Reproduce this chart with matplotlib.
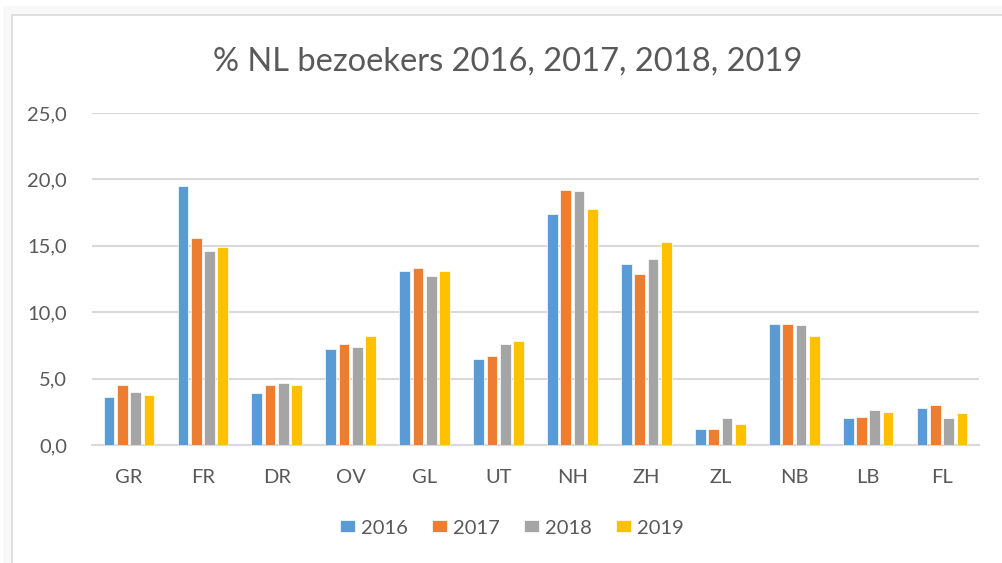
import matplotlib
matplotlib.use("Agg")
from matplotlib import pyplot as plt
from matplotlib.patches import Rectangle
import numpy as np

# Data
regions = ['GR', 'FR', 'DR', 'OV', 'GL', 'UT', 'NH', 'ZH', 'ZL', 'NB', 'LB', 'FL']
years = ['2016', '2017', '2018', '2019']
v2016 = [3.6, 19.5, 3.9, 7.2, 13.1, 6.5, 17.4, 13.6, 1.2, 9.1, 2.0, 2.8]
v2017 = [4.5, 15.6, 4.5, 7.6, 13.3, 6.7, 19.2, 12.9, 1.2, 9.1, 2.1, 3.0]
v2018 = [4.0, 14.6, 4.7, 7.4, 12.7, 7.6, 19.1, 14.0, 2.0, 9.0, 2.6, 2.0]
v2019 = [3.8, 14.9, 4.5, 8.2, 13.1, 7.8, 17.8, 15.3, 1.6, 8.2, 2.5, 2.4]
series = [v2016, v2017, v2018, v2019]
colors = ['#5B9BD5', '#ED7D31', '#A5A5A5', '#FFC000']
yticks = [0, 5, 10, 15, 20, 25]

plt.rcParams['font.family'] = ['Lato', 'DejaVu Sans']
txt = '#595959'

fig = plt.figure(figsize=(10.02, 5.63), dpi=100)
fig.patch.set_facecolor('white')
# light grey frame around the chart area, then the chart area with thin border
fig.patches.append(Rectangle((3/1002, 0), 1.0, 1 - 6/563, transform=fig.transFigure,
                             facecolor='#f8f8f8', edgecolor='none', zorder=-6))
fig.patches.append(Rectangle((12/1002, -0.01), 1.0, 1 - 15/563 + 0.01, transform=fig.transFigure,
                             facecolor='white', edgecolor='#d9d9d9', lw=1.2, zorder=-5))

ax = fig.add_axes([92/1002, 1 - 445/563, 887/1002, 332/563])
ax.set_facecolor('none')

x = np.arange(len(regions))
step = 0.18
width = 0.145
for i, vals in enumerate(series):
    ax.bar(x + (i - 1.5) * step, vals, width=width, color=colors[i],
           edgecolor='white', linewidth=0.5, label=years[i], zorder=3)

ax.set_xlim(-0.5, len(regions) - 0.5)
ax.set_ylim(0, 25)
ax.set_yticks(yticks)
ax.yaxis.set_major_formatter(plt.FuncFormatter(lambda v, p: ('%.1f' % v).replace('.', ',')))
ax.set_xticks(x)
ax.set_xticklabels(regions)
ax.grid(axis='y', color='#d9d9d9', linewidth=1.5, zorder=0)
for s in ['top', 'right', 'left']:
    ax.spines[s].set_visible(False)
ax.spines['bottom'].set_color('#d9d9d9')
ax.spines['bottom'].set_linewidth(1.5)
ax.tick_params(axis='both', length=0, labelsize=14.5, colors=txt)
ax.tick_params(axis='x', pad=17)
ax.tick_params(axis='y', pad=18)

fig.text(508/1002, 1 - 62/563, '% NL bezoekers 2016, 2017, 2018, 2019',
         ha='center', va='center', fontsize=23.5, color=txt)

fig.legend(loc='center', bbox_to_anchor=(512/1002, 1 - 528/563), ncol=4, frameon=False,
           fontsize=14.5, labelcolor=txt, handlelength=0.75, handleheight=0.55,
           handletextpad=0.3, columnspacing=1.2)

fig.savefig('out.png', dpi=100, facecolor=fig.get_facecolor())
